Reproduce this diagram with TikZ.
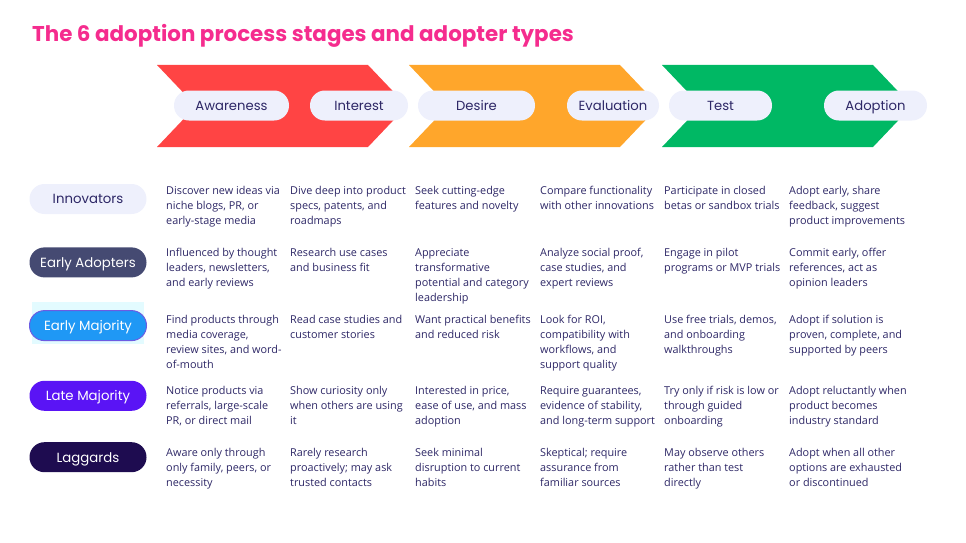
\documentclass[tikz,border=0pt]{standalone}
\usepackage{fontspec}
\setmainfont{Open Sans}
\newfontfamily\popfont{Poppins}
\usetikzlibrary{positioning}

\definecolor{titlepink}{HTML}{F52C8E}
\definecolor{chevred}{HTML}{FF4444}
\definecolor{chevorange}{HTML}{FFA62B}
\definecolor{chevgreen}{HTML}{00B864}
\definecolor{pillbg}{HTML}{EEF0FC}
\definecolor{inkblue}{HTML}{2D2766}
\definecolor{adoptslate}{HTML}{454A72}
\definecolor{majblue}{HTML}{1F98F5}
\definecolor{majedge}{HTML}{6C5CE2}
\definecolor{majglow}{HTML}{E3FBFF}
\definecolor{lateviolet}{HTML}{5A14F5}
\definecolor{lagnavy}{HTML}{1E0C50}

\begin{document}
\begin{tikzpicture}[
x=1pt,y=-1pt,
stage/.style={
  fill=pillbg,
  rounded corners=14.9pt,
  minimum height=30pt,
  inner sep=0pt,
  text height=11pt,
  text depth=1.2pt,
  text=inkblue,
  font=\popfont\fontsize{13.2}{16}\selectfont
},
adopter/.style={
  stage,
  minimum width=117pt,
  font=\popfont\fontsize{13.3}{16}\selectfont
},
cell/.style={
  anchor=north west,
  inner sep=0pt,
  align=left,
  text=inkblue,
  font=\fontsize{10.85}{15}\selectfont
},
node distance=33pt
]
\useasboundingbox (0,0) rectangle (966,543);

% title
\node[anchor=base west,inner sep=0pt,text=titlepink,
  font=\popfont\bfseries\fontsize{21.4}{26}\selectfont] 
  (title) at (32,42) {The 6 adoption process stages and adopter types};

% stage chevrons
\fill[chevred] (157,65) -- (368,65) -- (407,106) -- (368,147) -- (157,147) -- (196,106) -- cycle;
\fill[chevorange] (409,65) -- (620,65) -- (659,106) -- (620,147) -- (409,147) -- (448,106) -- cycle;
\fill[chevgreen] (662,65) -- (873,65) -- (912,106) -- (873,147) -- (662,147) -- (701,106) -- cycle;

\node[stage,minimum width=115pt] (aware) at (231.5,105.5) {Awareness};
\node[stage,minimum width=98pt] (interest) at (359,105.5) {Interest};
\node[stage,minimum width=117pt] (desire) at (476.5,105.5) {Desire};
\node[stage,minimum width=92pt] (eval) at (613,105.5) {Evaluation};
\node[stage,minimum width=103pt] (test) at (720.5,105.5) {Test};
\node[stage,minimum width=103pt] (adopt) at (875.5,105.5) {Adoption};

% adopter types
\fill[majglow] (32,302) rectangle (144,344);
\node[adopter] (innov) at (88,199) {Innovators};
\node[adopter,below=of innov,fill=adoptslate,text=white] 
  (eadopt) {Early Adopters};
\node[adopter,below=32.5pt of eadopt,fill=majblue,draw=majedge,line width=1pt,text=white] 
  (emaj) {Early Majority};
\node[adopter,below=39.5pt of emaj,fill=lateviolet,text=white] 
  (lmaj) {Late Majority};
\node[adopter,below=31pt of lmaj,fill=lagnavy,text=white] 
  (lagg) {Laggards};

% innovators
\node[cell] (innov-1) at (166,183.5) {\strut Discover new ideas via\\niche blogs, PR, or\\early-stage media};
\node[cell] (innov-2) at (290,183.5) {\strut Dive deep into product\\specs, patents, and\\roadmaps};
\node[cell] (innov-3) at (415,183.5) {\strut Seek cutting-edge\\features and novelty};
\node[cell] (innov-4) at (540,183.5) {\strut Compare functionality\\with other innovations};
\node[cell] (innov-5) at (664,183.5) {\strut Participate in closed\\betas or sandbox trials};
\node[cell] (innov-6) at (789,183.5) {\strut Adopt early, share\\feedback, suggest\\product improvements};

% early adopters
\node[cell] (eadopt-1) at (166,245.5) {\strut Influenced by thought\\leaders, newsletters,\\and early reviews};
\node[cell] (eadopt-2) at (290,245.5) {\strut Research use cases\\and business fit};
\node[cell] (eadopt-3) at (415,245.5) {\strut Appreciate\\transformative\\potential and category\\leadership};
\node[cell] (eadopt-4) at (540,245.5) {\strut Analyze social proof,\\case studies, and\\expert reviews};
\node[cell] (eadopt-5) at (664,245.5) {\strut Engage in pilot\\programs or MVP trials};
\node[cell] (eadopt-6) at (789,245.5) {\strut Commit early, offer\\references, act as\\opinion leaders};

% early majority
\node[cell] (emaj-1) at (166,312.5) {\strut Find products through\\media coverage,\\review sites, and word-\\of-mouth};
\node[cell] (emaj-2) at (290,312.5) {\strut Read case studies and\\customer stories};
\node[cell] (emaj-3) at (415,312.5) {\strut Want practical benefits\\and reduced risk};
\node[cell] (emaj-4) at (540,312.5) {\strut Look for ROI,\\compatibility with\\workflows, and\\support quality};
\node[cell] (emaj-5) at (664,312.5) {\strut Use free trials, demos,\\and onboarding\\walkthroughs};
\node[cell] (emaj-6) at (789,312.5) {\strut Adopt if solution is\\proven, complete, and\\supported by peers};

% late majority
\node[cell] (lmaj-1) at (166,383.5) {\strut Notice products via\\referrals, large-scale\\PR, or direct mail};
\node[cell] (lmaj-2) at (290,383.5) {\strut Show curiosity only\\when others are using\\it};
\node[cell] (lmaj-3) at (415,383.5) {\strut Interested in price,\\ease of use, and mass\\adoption};
\node[cell] (lmaj-4) at (540,383.5) {\strut Require guarantees,\\evidence of stability,\\and long-term support};
\node[cell] (lmaj-5) at (664,383.5) {\strut Try only if risk is low or\\through guided\\onboarding};
\node[cell] (lmaj-6) at (789,383.5) {\strut Adopt reluctantly when\\product becomes\\industry standard};

% laggards
\node[cell] (lagg-1) at (166,445.5) {\strut Aware only through\\only family, peers, or\\necessity};
\node[cell] (lagg-2) at (290,445.5) {\strut Rarely research\\proactively; may ask\\trusted contacts};
\node[cell] (lagg-3) at (415,445.5) {\strut Seek minimal\\disruption to current\\habits};
\node[cell] (lagg-4) at (540,445.5) {\strut Skeptical; require\\assurance from\\familiar sources};
\node[cell] (lagg-5) at (664,445.5) {\strut May observe others\\rather than test\\directly};
\node[cell] (lagg-6) at (789,445.5) {\strut Adopt when all other\\options are exhausted\\or discontinued};
\end{tikzpicture}
\end{document}
